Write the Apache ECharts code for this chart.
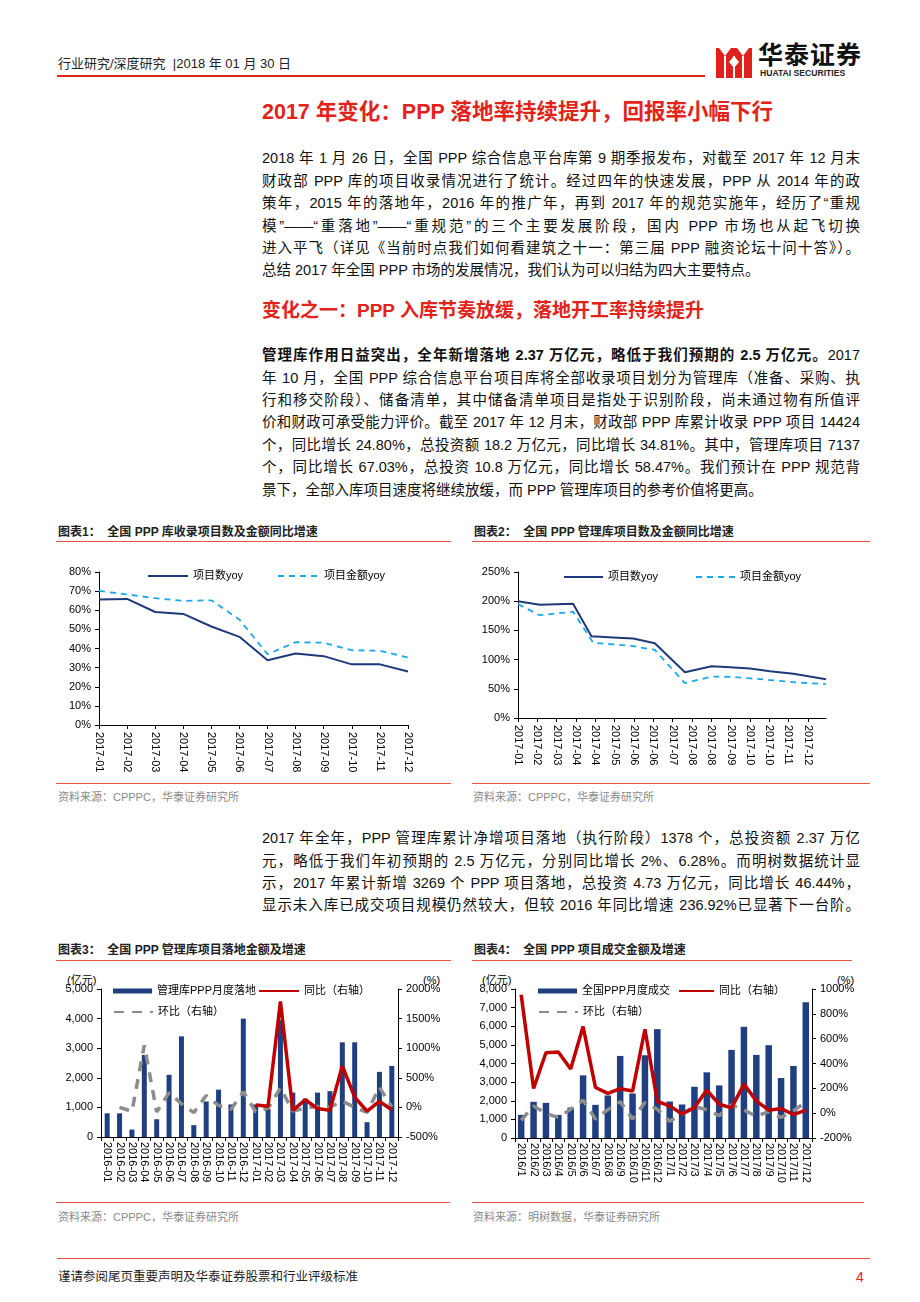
<!DOCTYPE html>
<html><head><meta charset="utf-8">
<script src="https://cdn.jsdelivr.net/npm/echarts@6/dist/echarts.min.js"></script>
<style>
html,body{margin:0;padding:0;background:#fff;}
#page{position:relative;width:920px;height:1302px;overflow:hidden;font-family:"Liberation Sans","Noto Sans CJK SC",sans-serif;color:#111;}
.t{position:absolute;white-space:nowrap;}
.ln{position:absolute;left:262px;width:598px;height:22px;line-height:22px;font-size:14.5px;white-space:nowrap;text-align:justify;text-align-last:justify;color:#111;}
.ln.l{text-align-last:left;}
.rl{position:absolute;height:1px;background:#EE5444;}
.cap{position:absolute;font-size:12px;font-weight:bold;line-height:16px;height:16px;white-space:nowrap;color:#222;}
.src{position:absolute;font-size:11px;line-height:14px;height:14px;white-space:nowrap;color:#8a8a8a;}
.unit{position:absolute;font-size:11px;line-height:14px;white-space:nowrap;color:#000;}
#chart{position:absolute;left:0;top:0;width:920px;height:1302px;}
</style></head>
<body>
<div id="page">
  <div class="t" style="left:58px;top:56px;font-size:13px;line-height:16px;color:#222;">行业研究/深度研究 &nbsp;|2018 年 01 月 30 日</div>
  <div style="position:absolute;left:57px;top:75px;width:648px;height:2px;background:#E0261E;"></div>
  <svg style="position:absolute;left:716px;top:48px;" width="36" height="30" viewBox="0 0 36 30">
    <rect x="0" y="0" width="36" height="30" fill="#E0211B"/>
    <rect x="8" y="8" width="2" height="22" fill="#fff"/>
    <rect x="17" y="8" width="2" height="22" fill="#fff"/>
    <rect x="26" y="8" width="2" height="22" fill="#fff"/>
    <polygon points="3,0 9,8 15,0" fill="#fff"/>
    <polygon points="21,0 27,8 33,0" fill="#fff"/>
    <polygon points="13,14 18,8 23,14 18,20" fill="#fff"/>
  </svg>
  <div class="t" style="left:758px;top:41px;font-size:25px;line-height:28px;font-weight:bold;color:#111;letter-spacing:1px;">华泰证券</div>
  <div class="t" style="left:760px;top:68px;font-size:8.6px;line-height:10px;font-weight:bold;color:#222;">HUATAI SECURITIES</div>

  <div class="t" style="left:262px;top:98px;font-size:21.5px;line-height:28px;font-weight:bold;color:#E3231A;">2017 年变化：PPP 落地率持续提升，回报率小幅下行</div>

  <div class="ln" style="top:147px;">2018 年 1 月 26 日，全国 PPP 综合信息平台库第 9 期季报发布，对截至 2017 年 12 月末</div>
  <div class="ln" style="top:170px;">财政部 PPP 库的项目收录情况进行了统计。经过四年的快速发展，PPP 从 2014 年的政</div>
  <div class="ln" style="top:192px;">策年，2015 年的落地年，2016 年的推广年，再到 2017 年的规范实施年，经历了“重规</div>
  <div class="ln" style="top:215px;">模”——“重落地”——“重规范”的三个主要发展阶段，国内 PPP 市场也从起飞切换</div>
  <div class="ln" style="top:237px;">进入平飞（详见《当前时点我们如何看建筑之十一：第三届 PPP 融资论坛十问十答》）。</div>
  <div class="ln l" style="top:259px;">总结 2017 年全国 PPP 市场的发展情况，我们认为可以归结为四大主要特点。</div>

  <div class="t" style="left:262px;top:300px;font-size:19px;line-height:22px;font-weight:bold;color:#E3231A;">变化之一：PPP 入库节奏放缓，落地开工率持续提升</div>

  <div class="ln" style="top:344px;"><b>管理库作用日益突出，全年新增落地 2.37 万亿元，略低于我们预期的 2.5 万亿元。</b>2017</div>
  <div class="ln" style="top:367px;">年 10 月，全国 PPP 综合信息平台项目库将全部收录项目划分为管理库（准备、采购、执</div>
  <div class="ln" style="top:389px;">行和移交阶段）、储备清单，其中储备清单项目是指处于识别阶段，尚未通过物有所值评</div>
  <div class="ln" style="top:411px;">价和财政可承受能力评价。截至 2017 年 12 月末，财政部 PPP 库累计收录 PPP 项目 14424</div>
  <div class="ln" style="top:434px;">个，同比增长 24.80%，总投资额 18.2 万亿元，同比增长 34.81%。其中，管理库项目 7137</div>
  <div class="ln" style="top:456px;">个，同比增长 67.03%，总投资 10.8 万亿元，同比增长 58.47%。我们预计在 PPP 规范背</div>
  <div class="ln l" style="top:479px;">景下，全部入库项目速度将继续放缓，而 PPP 管理库项目的参考价值将更高。</div>

  <div class="cap" style="left:58px;top:524px;">图表1：&nbsp;&nbsp;全国 PPP 库收录项目数及金额同比增速</div>
  <div class="rl" style="left:56px;top:541px;width:395px;"></div>
  <div class="cap" style="left:474px;top:524px;">图表2：&nbsp;&nbsp;全国 PPP 管理库项目数及金额同比增速</div>
  <div class="rl" style="left:472px;top:541px;width:398px;"></div>

  <div class="rl" style="left:56px;top:783px;width:395px;"></div>
  <div class="src" style="left:58px;top:790px;">资料来源：CPPPC，华泰证券研究所</div>
  <div class="rl" style="left:472px;top:783px;width:398px;"></div>
  <div class="src" style="left:473px;top:790px;">资料来源：CPPPC，华泰证券研究所</div>

  <div class="ln" style="top:827px;">2017 年全年，PPP 管理库累计净增项目落地（执行阶段）1378 个，总投资额 2.37 万亿</div>
  <div class="ln" style="top:850px;">元，略低于我们年初预期的 2.5 万亿元，分别同比增长 2%、6.28%。而明树数据统计显</div>
  <div class="ln" style="top:872px;">示，2017 年累计新增 3269 个 PPP 项目落地，总投资 4.73 万亿元，同比增长 46.44%，</div>
  <div class="ln" style="top:894px;">显示未入库已成交项目规模仍然较大，但较 2016 年同比增速 236.92%已显著下一台阶。</div>

  <div class="cap" style="left:58px;top:942px;">图表3：&nbsp;&nbsp;全国 PPP 管理库项目落地金额及增速</div>
  <div class="rl" style="left:56px;top:960px;width:395px;"></div>
  <div class="cap" style="left:474px;top:942px;">图表4：&nbsp;&nbsp;全国 PPP 项目成交金额及增速</div>
  <div class="rl" style="left:472px;top:960px;width:380px;"></div>

  <div class="unit" style="left:67px;top:973px;">(亿元)</div>
  <div class="unit" style="left:423px;top:973px;">(%)</div>
  <div class="unit" style="left:482px;top:973px;">(亿元)</div>
  <div class="unit" style="left:837px;top:973px;">(%)</div>

  <div class="rl" style="left:56px;top:1202px;width:394px;"></div>
  <div class="src" style="left:58px;top:1210px;">资料来源：CPPPC，华泰证券研究所</div>
  <div class="rl" style="left:472px;top:1202px;width:392px;"></div>
  <div class="src" style="left:473px;top:1210px;">资料来源：明树数据，华泰证券研究所</div>

  <div class="rl" style="left:57px;top:1258px;width:813px;"></div>
  <div class="t" style="left:58px;top:1269px;font-size:12.5px;line-height:16px;color:#222;">谨请参阅尾页重要声明及华泰证券股票和行业评级标准</div>
  <div class="t" style="left:856px;top:1268px;font-size:14px;line-height:18px;color:#E3231A;">4</div>

  <div id="chart"></div>
</div>
<script>
// ---------- data ----------
const c1Months = ['2017-01','2017-02','2017-03','2017-04','2017-05','2017-06','2017-07','2017-08','2017-09','2017-10','2017-11','2017-12'];
const c1Count  = [65.6,65.9,59.1,58.1,51.5,46.1,33.9,37.4,36.0,31.7,31.7,28.0];
const c1Amount = [70.1,68.3,66.3,64.9,65.2,55.1,37.0,43.3,43.0,39.1,38.8,35.3];

const c2Ticks = ['2017-01','2017-02','2017-03','2017-04','2017-04','2017-05','2017-06','2017-06','2017-07','2017-08','2017-08','2017-09','2017-10','2017-10','2017-11','2017-12'];
const c2CountPos  = [0,1.12,2.85,3.8,4.92,5.96,7.08,8.64,10.02,10.97,12.0,13.04,14.25,15.94];
const c2CountVal  = [200,194,195.5,140,138,136,128,78.5,88.6,87,84.7,80,75.6,66.5];
const c2AmountPos = [0,1.12,1.99,2.85,3.89,4.92,5.96,7.08,8.64,10.02,10.97,12.0,13.04,14.25,15.94];
const c2AmountVal = [195,176,179,182,129,126,123,116.5,59.7,71,70.5,68,65,61.4,58];

const c3Months = ['2016-01','2016-02','2016-03','2016-04','2016-05','2016-06','2016-07','2016-08','2016-09','2016-10','2016-11','2016-12',
                  '2017-01','2017-02','2017-03','2017-04','2017-05','2017-06','2017-07','2017-08','2017-09','2017-10','2017-11','2017-12'];
const c3Bars = [800,800,250,2770,600,2100,3400,400,1200,1600,1100,4000,1100,950,3950,1500,1300,1500,1550,3200,3200,500,2200,2400];
const c3Yoy  = [null,null,null,null,null,null,null,null,null,null,null,null,40,20,1790,-50,130,-20,-50,700,175,-65,100,-40];
const c3Mom  = [null,0,-69,1050,-78,250,62,-88,200,33,-31,264,-73,-14,330,-63,-13,15,3,106,0,-84,340,9];

const c4Months = ['2016/1','2016/2','2016/3','2016/4','2016/5','2016/6','2016/7','2016/8','2016/9','2016/10','2016/11','2016/12',
                  '2017/1','2017/2','2017/3','2017/4','2017/5','2017/6','2017/7','2017/8','2017/9','2017/10','2017/11','2017/12'];
const c4Bars = [1240,1942,1888,1240,1636,3363,1780,2284,4406,2392,4442,5845,1960,1800,2752,3525,2824,4730,5971,4460,4982,3219,3867,7284];
const c4Yoy  = [954,199,487,493,355,698,207,159,197,178,676,94,59,-6,45,186,72,43,234,99,24,37,-11,24];
const c4Mom  = [-57,57,-3,-34,32,105,-47,28,93,-46,86,32,-66,-8,53,28,-20,67,26,-25,12,-35,20,88];

// ---------- chart ----------
const FONT = '"Liberation Sans","Noto Sans CJK SC",sans-serif';
const NAVY = '#1F3A7A', SKY = '#1AA7EC', BAR = '#1F3F80', RED = '#C00000', GRAY = '#8C8C8C';
const zip = (a, b) => a.map((v, i) => [v, b[i]]);
const axLine = {show: true, lineStyle: {color: '#000', width: 1}};
const axTick = {show: true, length: 4, lineStyle: {color: '#000'}};
const lab = (extra) => Object.assign({color: '#000', fontSize: 11, fontFamily: FONT}, extra);
const thousands = v => v.toLocaleString('en-US');
const pct = v => v + '%';
const HIDE_SYM = {color: 'rgba(0,0,0,0)', borderColor: 'rgba(0,0,0,0)', borderWidth: 0};

function lg(name, left, cy, w, extra) {
  return Object.assign({
    data: [name], left: left, top: cy - 7, itemWidth: w, itemHeight: 14, padding: 0, itemGap: 0,
    selectedMode: false, orient: 'horizontal', itemStyle: HIDE_SYM,
    textStyle: {fontSize: 11, fontFamily: FONT, color: '#000', lineHeight: 14}
  }, extra || {});
}

const chart = echarts.init(document.getElementById('chart'), null, {renderer: 'canvas'});
chart.setOption({
  animation: false,
  backgroundColor: 'transparent',
  textStyle: {fontFamily: FONT},
  grid: [
    {left: 99, top: 572, width: 309, height: 153},
    {left: 518, top: 572, width: 308, height: 146},
    {left: 101, top: 989, width: 297, height: 148},
    {left: 515, top: 989, width: 297, height: 149}
  ],
  legend: [
    lg('项目数yoy', 147, 576, 40),
    lg('项目金额yoy', 277, 576, 41),
    lg('项目数yoy', 563, 577, 39),
    lg('项目金额yoy', 695, 577, 39),
    lg('管理库PPP月度落地', 113, 991, 39, {itemHeight: 5, icon: 'rect', itemStyle: {}}),
    lg('同比（右轴）', 258, 991, 40),
    lg('环比（右轴）', 113, 1012, 39),
    lg('全国PPP月度成交', 538, 991, 39, {itemHeight: 5, icon: 'rect', itemStyle: {}}),
    lg('同比（右轴）', 678, 991, 35),
    lg('环比（右轴）', 538, 1012, 39)
  ],
  xAxis: [
    {type: 'category', gridIndex: 0, data: c1Months, boundaryGap: false,
     axisLine: axLine, axisTick: Object.assign({alignWithLabel: true, interval: 0}, axTick),
     axisLabel: lab({rotate: -90, interval: 0, margin: 7}), splitLine: {show: false}},
    {type: 'value', gridIndex: 1, min: 0, max: 15.94, interval: 1,
     axisLine: axLine, axisTick: axTick, splitLine: {show: false},
     axisLabel: lab({rotate: -90, margin: 7, showMaxLabel: false,
       formatter: v => { const r = Math.round(v); return Math.abs(v - r) < 1e-6 && r < c2Ticks.length ? c2Ticks[r] : ''; }})},
    {type: 'category', gridIndex: 2, data: c3Months, boundaryGap: true,
     axisLine: axLine, axisTick: Object.assign({interval: 0}, axTick),
     axisLabel: lab({rotate: -90, interval: 0, margin: 5}), splitLine: {show: false}},
    {type: 'category', gridIndex: 3, data: c4Months, boundaryGap: true,
     axisLine: axLine, axisTick: Object.assign({interval: 0}, axTick),
     axisLabel: lab({rotate: -90, interval: 0, margin: 5}), splitLine: {show: false}}
  ],
  yAxis: [
    {type: 'value', gridIndex: 0, min: 0, max: 80, interval: 10, axisLine: axLine, axisTick: axTick,
     splitLine: {show: false}, axisLabel: lab({formatter: pct, margin: 8})},
    {type: 'value', gridIndex: 1, min: 0, max: 250, interval: 50, axisLine: axLine, axisTick: axTick,
     splitLine: {show: false}, axisLabel: lab({formatter: pct, margin: 8})},
    {type: 'value', gridIndex: 2, min: 0, max: 5000, interval: 1000, position: 'left', axisLine: axLine, axisTick: axTick,
     splitLine: {show: false}, axisLabel: lab({formatter: thousands, margin: 8})},
    {type: 'value', gridIndex: 2, min: -500, max: 2000, interval: 500, position: 'right', axisLine: axLine, axisTick: axTick,
     splitLine: {show: false}, axisLabel: lab({formatter: pct, margin: 8})},
    {type: 'value', gridIndex: 3, min: 0, max: 8000, interval: 1000, position: 'left', axisLine: axLine, axisTick: axTick,
     splitLine: {show: false}, axisLabel: lab({formatter: thousands, margin: 8})},
    {type: 'value', gridIndex: 3, min: -200, max: 1000, interval: 200, position: 'right', axisLine: axLine, axisTick: axTick,
     splitLine: {show: false}, axisLabel: lab({formatter: pct, margin: 8})}
  ],
  series: [
    {name: '项目数yoy', type: 'line', xAxisIndex: 0, yAxisIndex: 0, data: c1Count, symbol: 'none',
     lineStyle: {color: NAVY, width: 2}, itemStyle: {color: NAVY}},
    {name: '项目金额yoy', type: 'line', xAxisIndex: 0, yAxisIndex: 0, data: c1Amount, symbol: 'none',
     lineStyle: {color: SKY, width: 1.8, type: [6, 5]}, itemStyle: {color: SKY}},
    {name: '项目数yoy', type: 'line', xAxisIndex: 1, yAxisIndex: 1, data: zip(c2CountPos, c2CountVal), symbol: 'none',
     lineStyle: {color: NAVY, width: 2}, itemStyle: {color: NAVY}},
    {name: '项目金额yoy', type: 'line', xAxisIndex: 1, yAxisIndex: 1, data: zip(c2AmountPos, c2AmountVal), symbol: 'none',
     lineStyle: {color: SKY, width: 1.8, type: [6, 5]}, itemStyle: {color: SKY}},

    {name: '管理库PPP月度落地', type: 'bar', xAxisIndex: 2, yAxisIndex: 2, data: c3Bars, barWidth: 5,
     itemStyle: {color: BAR}},
    {name: '环比（右轴）', type: 'line', xAxisIndex: 2, yAxisIndex: 3, data: c3Mom, symbol: 'none',
     lineStyle: {color: GRAY, width: 3.5, type: [10, 8]}, itemStyle: {color: GRAY}},
    {name: '同比（右轴）', type: 'line', xAxisIndex: 2, yAxisIndex: 3, data: c3Yoy, symbol: 'none',
     lineStyle: {color: RED, width: 3.5}, itemStyle: {color: RED}},

    {name: '全国PPP月度成交', type: 'bar', xAxisIndex: 3, yAxisIndex: 4, data: c4Bars, barWidth: 6.5,
     itemStyle: {color: BAR}},
    {name: '环比（右轴）', type: 'line', xAxisIndex: 3, yAxisIndex: 5, data: c4Mom, symbol: 'none',
     lineStyle: {color: GRAY, width: 3.5, type: [10, 8]}, itemStyle: {color: GRAY}},
    {name: '同比（右轴）', type: 'line', xAxisIndex: 3, yAxisIndex: 5, data: c4Yoy, symbol: 'none',
     lineStyle: {color: RED, width: 3.5}, itemStyle: {color: RED}}
  ]
});
</script>
</body></html>
